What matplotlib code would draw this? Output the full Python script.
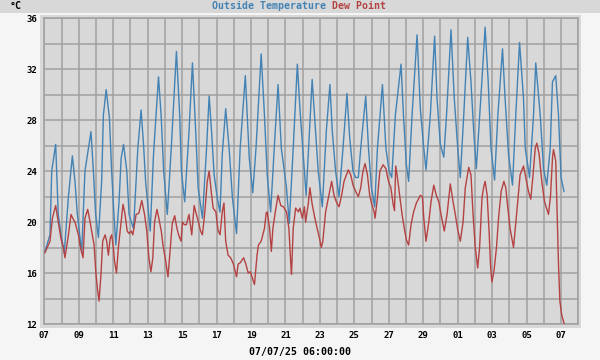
import matplotlib
matplotlib.use("Agg")
import matplotlib.pyplot as plt
import matplotlib.dates as mdates
from matplotlib.patches import Rectangle
import pandas as pd
import numpy as np

# ---- data (day offsets from 2025-06-07 00:00) ----
start = pd.Timestamp("2025-06-07 00:00")

temp_days = [0.04, 0.33, 0.43, 0.66, 0.81, 0.97, 1.16, 1.40, 1.63, 1.78, 1.92, 2.17, 2.36, 2.71, 2.85, 2.98,
             3.14, 3.33, 3.43, 3.59, 3.78, 3.91, 4.01, 4.15, 4.34, 4.46, 4.60, 4.79, 4.92, 5.05, 5.18, 5.43,
             5.62, 5.76, 5.88, 6.15, 6.34, 6.63, 6.79, 6.93, 7.14, 7.37, 7.67, 7.86, 7.96, 8.15, 8.40, 8.60,
             8.79, 8.93, 9.18, 9.42, 9.57, 9.71, 9.86, 10.04, 10.20, 10.33, 10.53, 10.73, 10.92, 11.16, 11.37,
             11.67, 11.90, 12.10, 12.29, 12.59, 12.78, 12.94, 13.14, 13.37, 13.57, 13.76, 14.06, 14.22, 14.45,
             14.69, 14.84, 15.10, 15.20, 15.36, 15.55, 15.75, 15.90, 16.14, 16.37, 16.58, 16.72, 16.91, 17.11,
             17.34, 17.57, 17.73, 17.92, 18.08, 18.23, 18.37, 18.66, 18.82, 18.99, 19.18, 19.34, 19.63, 19.83,
             20.02, 20.17, 20.38, 20.71, 20.85, 21.02, 21.15, 21.35, 21.64, 21.83, 22.03, 22.16, 22.41, 22.66,
             22.80, 22.99, 23.19, 23.35, 23.61, 23.80, 24.00, 24.15, 24.35, 24.58, 24.77, 24.93, 25.08, 25.40,
             25.59, 25.77, 25.93, 26.14, 26.33, 26.60, 26.75, 26.95, 27.18, 27.37, 27.59, 27.82, 27.92, 28.17,
             28.40, 28.53, 28.79, 28.98, 29.17, 29.37, 29.50, 29.69, 29.85, 30.00, 30.17]
temp_vals = [17.7, 19.0, 24.0, 26.1, 20.6, 19.0, 17.6, 22.0, 25.2, 23.2, 20.6, 17.6, 24.0, 27.1, 24.0, 20.6,
             18.8, 23.2, 28.4, 30.4, 28.2, 24.0, 21.4, 18.2, 21.6, 25.0, 26.1, 24.0, 20.6, 20.0, 19.5, 25.8,
             28.8, 26.1, 23.2, 19.3, 25.3, 31.4, 28.2, 24.0, 20.6, 25.8, 33.4, 28.4, 24.0, 21.6, 27.1, 32.5,
             27.1, 22.7, 20.3, 25.8, 29.9, 27.1, 23.7, 21.9, 20.8, 25.3, 28.9, 25.8, 21.9, 19.1, 25.8,
             31.5, 25.0, 22.3, 25.8, 33.2, 28.4, 23.7, 20.8, 26.3, 30.8, 25.8, 22.7, 19.9, 25.8,
             32.4, 28.9, 24.0, 22.1, 26.3, 31.2, 27.1, 24.0, 21.2, 27.1, 30.8, 27.1, 24.0, 22.0,
             25.8, 30.1, 26.6, 24.0, 23.5, 23.5, 25.8, 29.9, 25.8, 22.7, 21.2, 25.8, 30.8, 25.8,
             24.0, 23.5, 28.4, 32.4, 28.4, 24.5, 23.2, 28.4, 34.7, 28.9, 25.8, 24.1, 28.4, 34.6,
             29.7, 26.1, 25.1, 28.4, 35.1, 29.7, 25.8, 23.5, 28.4, 34.5, 31.0, 27.1, 24.2, 31.0,
             35.3, 31.0, 25.8, 23.3, 28.4, 33.6, 29.7, 25.3, 22.9, 28.4, 34.1, 29.7, 25.8, 23.5,
             28.4, 32.5, 28.4, 24.2, 22.9, 25.8, 31.0, 31.5, 28.4, 23.5, 22.4]

dew_days = [0.04, 0.33, 0.47, 0.66, 0.81, 0.97, 1.10, 1.20, 1.40, 1.55, 1.69, 1.78, 1.98, 2.07, 2.25, 2.36,
            2.52, 2.66, 2.75, 2.89, 3.00, 3.10, 3.18, 3.29, 3.39, 3.53, 3.62, 3.72, 3.82, 3.91, 4.01, 4.07,
            4.19, 4.30, 4.46, 4.57, 4.69, 4.81, 4.92, 5.05, 5.14, 5.33, 5.49, 5.66, 5.82, 5.95, 6.07, 6.19,
            6.30, 6.40, 6.54, 6.65, 6.79, 6.89, 7.04, 7.18, 7.28, 7.43, 7.57, 7.70, 7.82, 7.94, 8.02, 8.13,
            8.25, 8.40, 8.56, 8.70, 8.83, 8.95, 9.07, 9.18, 9.32, 9.46, 9.57, 9.69, 9.80, 9.96, 10.08, 10.20,
            10.33, 10.43, 10.53, 10.67, 10.82, 10.98, 11.16, 11.25, 11.37, 11.57, 11.70, 11.84, 11.96, 12.20,
            12.35, 12.43, 12.59, 12.78, 12.88, 12.94, 13.08, 13.18, 13.27, 13.41, 13.57, 13.73, 13.88, 14.06,
            14.20, 14.31, 14.35, 14.45, 14.59, 14.75, 14.84, 14.98, 15.10, 15.17, 15.32, 15.42, 15.55, 15.71,
            15.84, 15.98, 16.08, 16.17, 16.33, 16.49, 16.68, 16.82, 16.95, 17.11, 17.26, 17.40, 17.65, 17.79,
            17.92, 18.08, 18.23, 18.37, 18.50, 18.62, 18.76, 18.89, 19.01, 19.15, 19.20, 19.34, 19.48, 19.67,
            19.83, 19.98, 20.12, 20.25, 20.33, 20.40, 20.48, 20.63, 20.77, 20.90, 21.02, 21.15, 21.29, 21.44,
            21.60, 21.83, 21.95, 22.03, 22.16, 22.32, 22.45, 22.61, 22.76, 22.90, 23.03, 23.22, 23.38, 23.57,
            23.73, 23.86, 24.00, 24.15, 24.31, 24.44, 24.64, 24.77, 24.89, 25.02, 25.16, 25.27, 25.41, 25.50,
            25.59, 25.71, 25.83, 25.90, 25.98, 26.10, 26.25, 26.37, 26.52, 26.68, 26.79, 26.91, 27.04, 27.24,
            27.33, 27.45, 27.62, 27.82, 27.95, 28.11, 28.24, 28.36, 28.50, 28.59, 28.73, 28.88, 29.04, 29.27,
            29.39, 29.50, 29.56, 29.69, 29.77, 29.85, 29.93, 30.04, 30.18]
dew_vals = [17.6, 18.5, 20.3, 21.3, 20.0, 18.7, 18.0, 17.2, 19.0, 20.6, 20.2, 20.0, 19.0, 18.2, 17.2, 20.3,
            21.0, 20.0, 19.3, 18.2, 15.9, 14.6, 13.8, 15.9, 18.5, 19.0, 18.5, 17.4, 18.7, 19.0, 18.0, 17.0,
            16.0, 18.0, 20.0, 21.4, 20.6, 19.3, 19.1, 19.3, 19.0, 20.6, 20.7, 21.7, 20.6, 19.3, 17.2, 16.1,
            17.2, 20.0, 21.0, 20.3, 19.3, 18.2, 17.0, 15.7, 17.4, 19.9, 20.5, 19.5, 18.9, 18.5, 20.0, 19.8,
            19.8, 20.6, 19.0, 21.3, 20.6, 20.0, 19.3, 19.0, 20.8, 23.2, 24.0, 22.4, 21.1, 20.8, 19.4, 19.0,
            20.8, 21.5, 18.5, 17.4, 17.2, 16.7, 15.7, 16.7, 16.8, 17.2, 16.7, 16.0, 16.1, 15.1,
            17.4, 18.2, 18.5, 19.5, 20.7, 20.8, 19.5, 17.7, 19.5, 20.8, 22.1, 21.3, 21.2, 20.8,
            19.5, 16.7, 15.9, 19.5, 21.1, 20.8, 21.1, 20.3, 21.2, 20.0, 21.4, 22.7, 21.4, 20.3,
            19.5, 18.7, 18.0, 18.5, 20.8, 21.9, 23.2, 22.1, 21.6, 21.2, 22.1, 23.2, 24.1, 23.7,
            22.9, 22.4, 22.0, 22.7, 24.0, 24.6, 23.7, 22.1, 21.4, 20.8, 20.3, 21.9, 24.0, 24.5,
            24.2, 23.2, 22.7, 21.4, 20.9, 24.4, 23.7, 22.1, 20.6, 19.5, 18.6, 18.2, 19.8, 20.8,
            21.5, 22.1, 22.0, 20.3, 18.5, 20.0, 21.6, 22.9, 22.1, 21.6, 20.6, 19.3, 20.6, 23.0,
            21.6, 20.6, 19.4, 18.5, 20.0, 22.7, 24.3, 23.7, 20.6, 18.0, 16.4, 18.0, 21.9, 22.7,
            23.2, 22.1, 19.0, 16.7, 15.3, 16.1, 18.0, 20.3, 22.4, 23.2, 22.7, 21.1, 19.5, 18.0,
            19.3, 21.1, 23.7, 24.4, 23.5, 22.4, 21.8, 23.5, 25.8, 26.2, 25.3, 23.2, 21.6, 20.6,
            22.1, 25.0, 25.7, 24.8, 20.6, 16.7, 13.8, 12.7, 12.0]

title_temp = "Outside Temperature"
title_dew = "Dew Point"
unit_label = "°C"
time_label = "07/07/25 06:00:00"
y_ticks = [12, 16, 20, 24, 28, 32, 36]

# ---- styling ----
BLUE = "#4282b4"
RED = "#b44242"
GRID = "#a0a0a0"
CHART_BG = "#d8d8d8"
IMG_BG = "#f5f5f5"
FONT = dict(family="DejaVu Sans Mono", weight="bold")

W, H = 600, 360
fig = plt.figure(figsize=(W / 100, H / 100), dpi=100, facecolor=IMG_BG)

# top band and chart box
fig.patches.append(Rectangle((0, 1 - 12.7 / H), 1, 12.7 / H, transform=fig.transFigure,
                             facecolor=CHART_BG, edgecolor="none", zorder=-5))
fig.patches.append(Rectangle((40 / W, (H - 328) / H), 541 / W, 313 / H, transform=fig.transFigure,
                             facecolor=CHART_BG, edgecolor="none", zorder=-5))

ax = fig.add_axes([44.3 / W, (H - 324) / H, 534 / W, 305.7 / H])
ax.set_zorder(2)
ax.set_facecolor(CHART_BG)

t_temp = [start + pd.Timedelta(days=d) for d in temp_days]
t_dew = [start + pd.Timedelta(days=d) for d in dew_days]

ax.plot(t_temp, temp_vals, color=BLUE, lw=1.0, zorder=3)
ax.plot(t_dew, dew_vals, color=RED, lw=1.0, zorder=3)

ax.set_xlim(start, start + pd.Timedelta(days=31))
ax.set_ylim(12, 36)

ax.xaxis.set_major_locator(mdates.DayLocator(bymonthday=[1, 3, 5, 7, 9, 11, 13, 15, 17, 19, 21, 23, 25, 27, 29]))
ax.xaxis.set_minor_locator(mdates.DayLocator())
ax.xaxis.set_major_formatter(mdates.DateFormatter("%d"))
ax.set_yticks(y_ticks)
ax.set_yticks(np.arange(12, 37, 2), minor=True)

ax.grid(True, which="both", color=GRID, lw=1.1)
ax.set_axisbelow(True)
for s in ax.spines.values():
    s.set_color(GRID)
    s.set_linewidth(1.1)

ax.tick_params(which="both", length=0)
ax.tick_params(axis="x", pad=5, labelsize=6.5)
ax.tick_params(axis="y", pad=5, labelsize=6.5)
for lab in ax.get_xticklabels() + ax.get_yticklabels():
    lab.set_fontfamily(FONT["family"])
    lab.set_fontweight("bold")

# texts
fig.text(326.5 / W, 1 - 6 / H, title_temp, color=BLUE, ha="right", va="center", fontsize=7.1, **FONT)
fig.text(332.5 / W, 1 - 6 / H, title_dew, color=RED, ha="left", va="center", fontsize=7.1, **FONT)
fig.text(10 / W, 1 - 6 / H, unit_label, color="black", ha="left", va="center", fontsize=7.1, **FONT)
fig.text(0.5, 1 - 351.7 / H, time_label, color="black", ha="center", va="center", fontsize=7.1, **FONT)

fig.savefig("out.png", dpi=100, facecolor=IMG_BG)
